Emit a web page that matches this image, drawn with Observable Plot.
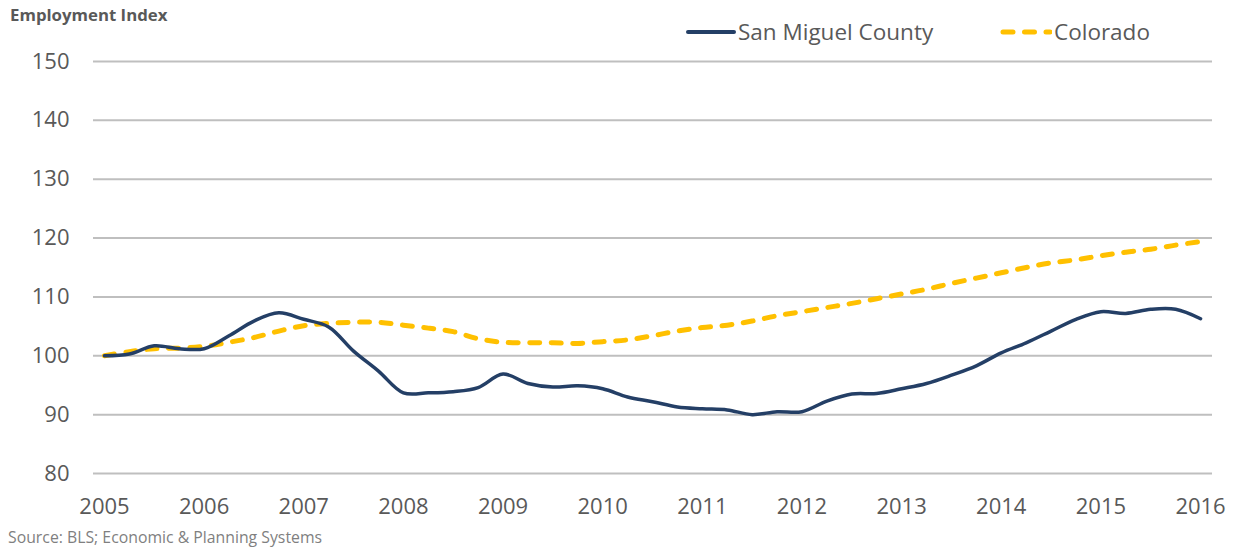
<!DOCTYPE html>
<html><head><meta charset="utf-8">
<script src="https://cdn.jsdelivr.net/npm/d3@7"></script>
<script src="https://cdn.jsdelivr.net/npm/@observablehq/plot@0.6"></script>
<style>
body{margin:0;background:#fff;font-family:"Open Sans",sans-serif;}
#wrap{position:relative;width:1240px;height:550px;overflow:hidden;}
#title{position:absolute;left:10px;top:3px;font-size:16.8px;font-weight:bold;color:#595959;}
.leg{position:absolute;top:16px;display:flex;align-items:center;font-size:22.5px;color:#595959;white-space:nowrap;}
.leg svg{margin-right:2px;}
#chart{position:absolute;top:45px;left:0;}
#source{position:absolute;left:8px;top:526px;font-size:15.8px;color:#7f7f7f;}
</style></head>
<body>
<div id="wrap">
  <div id="title">Employment Index</div>
  <div class="leg" style="left:686px"><svg width="50" height="10"><line x1="2" y1="5" x2="48" y2="5" stroke="#243f66" stroke-width="4" stroke-linecap="round"/></svg>San Miguel County</div>
  <div class="leg" style="left:1000px"><svg width="52" height="10"><line x1="3" y1="5" x2="50" y2="5" stroke="#ffc000" stroke-width="5" stroke-linecap="round" stroke-dasharray="10,11.5"/></svg>Colorado</div>
  <div id="chart"></div>
  <div id="source">Source: BLS; Economic &amp; Planning Systems</div>
</div>
<script>
const quarters = [2005,2005.25,2005.5,2005.75,2006,2006.25,2006.5,2006.75,2007,2007.25,2007.5,2007.75,2008,2008.25,2008.5,2008.75,2009,2009.25,2009.5,2009.75,2010,2010.25,2010.5,2010.75,2011,2011.25,2011.5,2011.75,2012,2012.25,2012.5,2012.75,2013,2013.25,2013.5,2013.75,2014,2014.25,2014.5,2014.75,2015,2015.25,2015.5,2015.75,2016];
const sanMiguel = [100,100.3,101.7,101.2,101.2,103.4,105.9,107.3,106.2,104.9,100.8,97.4,93.7,93.7,93.9,94.6,96.9,95.3,94.7,94.9,94.4,93.0,92.2,91.3,91.0,90.8,90.0,90.5,90.5,92.3,93.5,93.6,94.4,95.3,96.7,98.3,100.5,102.2,104.2,106.2,107.5,107.2,107.9,107.9,106.3];
const colorado = [100,100.7,101.2,101.3,101.6,102.3,103.1,104.2,105.1,105.5,105.7,105.7,105.2,104.7,104.1,102.9,102.3,102.2,102.2,102.1,102.4,102.7,103.4,104.2,104.8,105.2,105.9,106.8,107.5,108.2,108.9,109.7,110.5,111.3,112.3,113.2,114.1,115.0,115.8,116.3,117.0,117.6,118.1,118.8,119.4];
const yearTicks = [2005,2006,2007,2008,2009,2010,2011,2012,2013,2014,2015,2016];
const yTicks = [80,90,100,110,120,130,140,150];

const sm = quarters.map((t,i)=>({t, v: sanMiguel[i]}));
const co = quarters.map((t,i)=>({t, v: colorado[i]}));

const chart = Plot.plot({
  width: 1240,
  height: 480,
  marginLeft: 93,
  marginRight: 28,
  marginTop: 16,
  marginBottom: 52,
  style: {fontFamily: '"Open Sans", sans-serif', fontSize: "22px", color: "#595959", background: "#fff"},
  x: {domain: [2004.89, 2016.12], ticks: yearTicks, tickFormat: d => String(d), tickSize: 0, tickPadding: 25, label: null},
  y: {domain: [80, 150], ticks: yTicks, tickSize: 0, tickPadding: 24, label: null},
  marks: [
    Plot.ruleY(yTicks, {stroke: "#bfbfbf", strokeWidth: 2}),
    Plot.lineY(co, {x: "t", y: "v", stroke: "#ffc000", strokeWidth: 5, strokeDasharray: "10,11.5", strokeLinecap: "round", curve: "catmull-rom"}),
    Plot.lineY(sm, {x: "t", y: "v", stroke: "#243f66", strokeWidth: 3.5, curve: "catmull-rom"})
  ]
});
document.getElementById("chart").appendChild(chart);
</script>
</body></html>
